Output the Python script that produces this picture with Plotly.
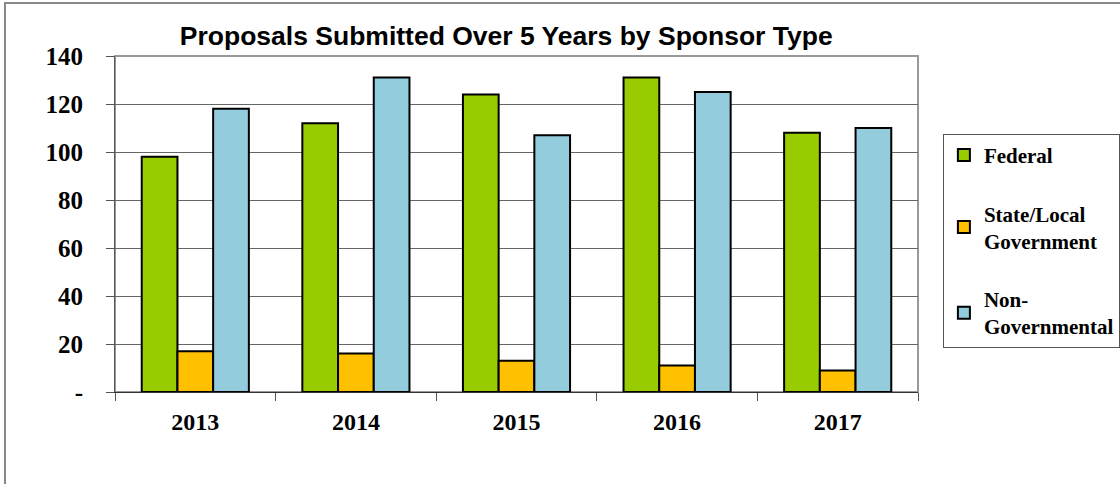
import plotly.graph_objects as go

years = ["2013", "2014", "2015", "2016", "2017"]
federal = [98, 112, 124, 131, 108]
state_local = [17, 16, 13, 11, 9]
non_gov = [118, 131, 107, 125, 110]

series = [
    ("<b>Federal</b>", federal, "#99CC00"),
    ("<b>State/Local<br>Government</b>", state_local, "#FFC000"),
    ("<b>Non-<br>Governmental</b>", non_gov, "#93CDDD"),
]

fig = go.Figure()
for i, (name, vals, color) in enumerate(series):
    fig.add_trace(go.Bar(
        x=years, y=vals, name=name, legendgroup=str(i),
        marker=dict(color=color, line=dict(color="black", width=2)),
    ))

fig.update_layout(
    width=1120, height=484,
    margin=dict(l=115, r=202, t=56, b=92, autoexpand=False),
    barmode="group", bargap=0.333, bargroupgap=0,
    plot_bgcolor="white", paper_bgcolor="white",
    title=dict(text="<b>Proposals Submitted Over 5 Years by Sponsor Type</b>",
               x=0.452, xanchor="center", y=0.926, yanchor="middle",
               font=dict(family="Liberation Sans, Arial", size=26.5, color="black")),
    font=dict(family="Liberation Serif, Times New Roman", color="black"),
    legend=dict(x=1.031, xanchor="left", y=0.768, yanchor="top",
                bordercolor="#555", borderwidth=1, bgcolor="white",
                tracegroupgap=28, itemwidth=30,
                font=dict(family="Liberation Serif", size=21, color="black")),
    showlegend=True,
)

fig.update_xaxes(
    automargin=False,
    tickfont=dict(size=24, family="Liberation Serif", weight="bold"),
    showline=True, linecolor="#333", linewidth=1, mirror=False,
    ticks="outside", ticklen=8, tickcolor="#555", tickson="boundaries",
    ticklabelstandoff=8, showgrid=False,
)
fig.update_yaxes(
    automargin=False,
    range=[0, 140], tickvals=[0, 20, 40, 60, 80, 100, 120, 140],
    ticktext=["-", "20", "40", "60", "80", "100", "120", "140"],
    tickfont=dict(size=25, family="Liberation Serif", weight="bold"),
    showline=True, linecolor="#555", linewidth=1,
    ticks="outside", ticklen=8, tickcolor="#555", ticklabelstandoff=18,
    showgrid=True, gridcolor="#666", gridwidth=1, zeroline=False,
)

# plot area frame (top and right edges in gray)
fig.add_shape(type="rect", xref="paper", yref="paper", x0=0, x1=1, y0=0, y1=1,
              line=dict(color="#999", width=2), layer="below")
# outer chart border (runs off the right and bottom of the picture)
fig.add_shape(type="rect", xref="paper", yref="paper",
              x0=-0.137, x1=1.3, y0=-0.4, y1=1.158,
              line=dict(color="#888", width=2))

# drop the default body margin so the figure sits at the page corner
fig.write_html("out.html", config={"displayModeBar": False},
               post_script="document.body.style.margin='0';")
